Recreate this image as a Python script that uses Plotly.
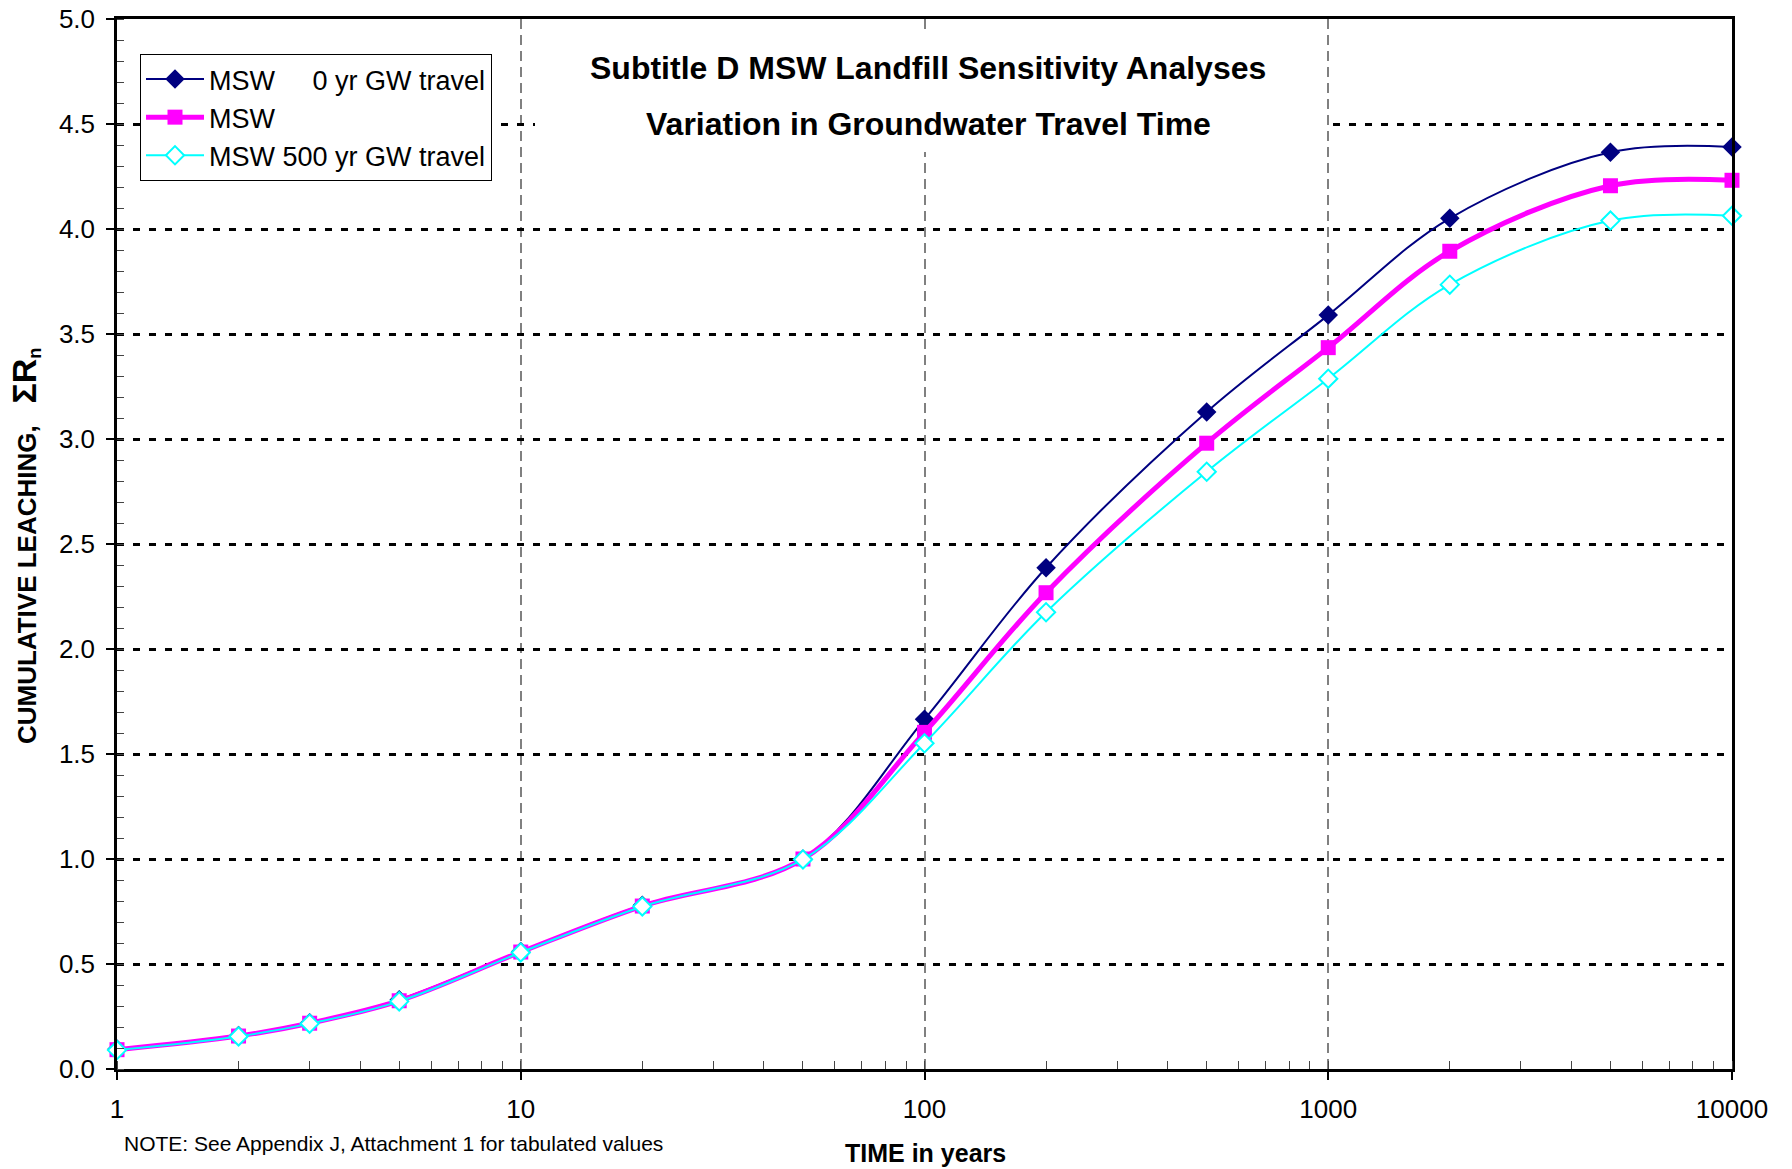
import plotly.graph_objects as go

# Time points (years) and cumulative leaching values for each case
years = [1, 2, 3, 5, 10, 20, 50, 100, 200, 500, 1000, 2000, 5000, 10000]
msw_0yr = [0.095, 0.160, 0.220, 0.330, 0.560, 0.780, 1.000, 1.665, 2.387, 3.129, 3.590, 4.051, 4.365, 4.390]
msw_base = [0.092, 0.157, 0.218, 0.325, 0.557, 0.776, 1.000, 1.603, 2.268, 2.980, 3.435, 3.894, 4.206, 4.232]
msw_500yr = [0.090, 0.155, 0.216, 0.322, 0.555, 0.774, 0.998, 1.551, 2.175, 2.844, 3.287, 3.735, 4.040, 4.063]

series_names = [
    "MSW\u00a0\u00a0\u00a0\u00a0\u00a00 yr GW travel",
    "MSW",
    "MSW 500 yr GW travel",
]
x_tick_vals = [1, 10, 100, 1000, 10000]
x_tick_text = ["1", "10", "100", "1000", "10000"]
y_tick_vals = [0.0, 0.5, 1.0, 1.5, 2.0, 2.5, 3.0, 3.5, 4.0, 4.5, 5.0]
y_tick_text = ["%.1f" % v for v in y_tick_vals]

FONT = "Liberation Sans, Arial, Helvetica, sans-serif"

fig = go.Figure()

fig.add_trace(go.Scatter(
    x=years, y=msw_0yr, name=series_names[0], cliponaxis=False,
    mode="lines+markers", line=dict(color="#000080", width=2, shape="spline"),
    marker=dict(symbol="diamond", size=15, color="#000080"),
))
fig.add_trace(go.Scatter(
    x=years, y=msw_base, name=series_names[1], cliponaxis=False,
    mode="lines+markers", line=dict(color="#FF00FF", width=5, shape="spline"),
    marker=dict(symbol="square", size=15, color="#FF00FF"),
))
fig.add_trace(go.Scatter(
    x=years, y=msw_500yr, name=series_names[2], cliponaxis=False,
    mode="lines+markers", line=dict(color="#00FFFF", width=2, shape="spline"),
    marker=dict(symbol="diamond", size=14, color="white",
                line=dict(color="#00FFFF", width=2)),
))

# plot-area geometry in pixels (used to place paper-referenced text)
L, R, T, B = 117, 1732, 19, 1069
def px(xp):
    return (xp - L) / (R - L)
def py(yp):
    return (B - yp) / (B - T)

fig.update_layout(
    template="none",
    width=1792, height=1169,
    margin=dict(l=L, r=1792 - R, t=T, b=1169 - B, autoexpand=False),
    paper_bgcolor="white", plot_bgcolor="white",
    font=dict(family=FONT, color="black", size=26),
    showlegend=True,
    legend=dict(
        x=px(140), y=py(54), xanchor="left", yanchor="top",
        bgcolor="white", bordercolor="black", borderwidth=1,
        font=dict(family=FONT, size=27, color="black"),
        itemwidth=58, tracegroupgap=0, traceorder="normal",
    ),
    xaxis=dict(
        type="log", range=[0, 4], automargin=False,
        tickvals=x_tick_vals, ticktext=x_tick_text,
        ticks="outside", ticklen=8, tickwidth=1.5, tickcolor="black",
        ticklabelstandoff=7,
        showgrid=True, gridcolor="#808080", gridwidth=1.5, griddash="10px,6px",
        showline=True, linecolor="black", linewidth=3, mirror=True,
        zeroline=False,
        minor=dict(ticks="inside", ticklen=8, tickwidth=1.2, tickcolor="#444444",
                   dtick="D1", showgrid=False),
        tickfont=dict(family=FONT, size=26),
    ),
    yaxis=dict(
        range=[0, 5], automargin=False,
        tickvals=y_tick_vals, ticktext=y_tick_text,
        ticks="outside", ticklen=8, tickwidth=1.5, tickcolor="black",
        ticklabelstandoff=6,
        showgrid=True, gridcolor="black", gridwidth=3, griddash="7px,9px",
        showline=True, linecolor="black", linewidth=2.5, mirror=True,
        zeroline=False,
        minor=dict(ticks="inside", ticklen=7, tickwidth=1.2, tickcolor="#444444",
                   dtick=0.1, showgrid=False),
        tickfont=dict(family=FONT, size=26),
    ),
)

# white panel behind the chart title
fig.add_shape(type="rect", xref="paper", yref="paper",
              x0=px(535), x1=px(1326), y0=py(152), y1=py(34),
              fillcolor="white", line=dict(width=0), layer="above")

fig.add_annotation(text="<b>Subtitle D MSW Landfill Sensitivity Analyses</b>",
                   xref="paper", yref="paper", x=px(928), y=py(68),
                   xanchor="center", yanchor="middle", showarrow=False,
                   font=dict(family=FONT, size=32, color="black"))
fig.add_annotation(text="<b>Variation in Groundwater Travel Time</b>",
                   xref="paper", yref="paper", x=px(928), y=py(124),
                   xanchor="center", yanchor="middle", showarrow=False,
                   font=dict(family=FONT, size=32, color="black"))

# axis titles and note
fig.add_annotation(
    text="<b>CUMULATIVE LEACHING,\u00a0\u00a0\u00a0<span style='font-size:34px'>\u03a3R</span><sub>n</sub></b>",
    xref="paper", yref="paper", x=px(25), y=py(546),
    xanchor="center", yanchor="middle", textangle=-90, showarrow=False,
    font=dict(family=FONT, size=26, color="black"))
fig.add_annotation(text="<b>TIME in years</b>",
                   xref="paper", yref="paper", x=px(925), y=py(1153),
                   xanchor="center", yanchor="middle", showarrow=False,
                   font=dict(family=FONT, size=25, color="black"))
fig.add_annotation(text="NOTE: See Appendix J, Attachment 1 for tabulated values",
                   xref="paper", yref="paper", x=px(122), y=py(1143),
                   xanchor="left", yanchor="middle", showarrow=False,
                   font=dict(family=FONT, size=21, color="black"))

fig.write_html("out.html")
